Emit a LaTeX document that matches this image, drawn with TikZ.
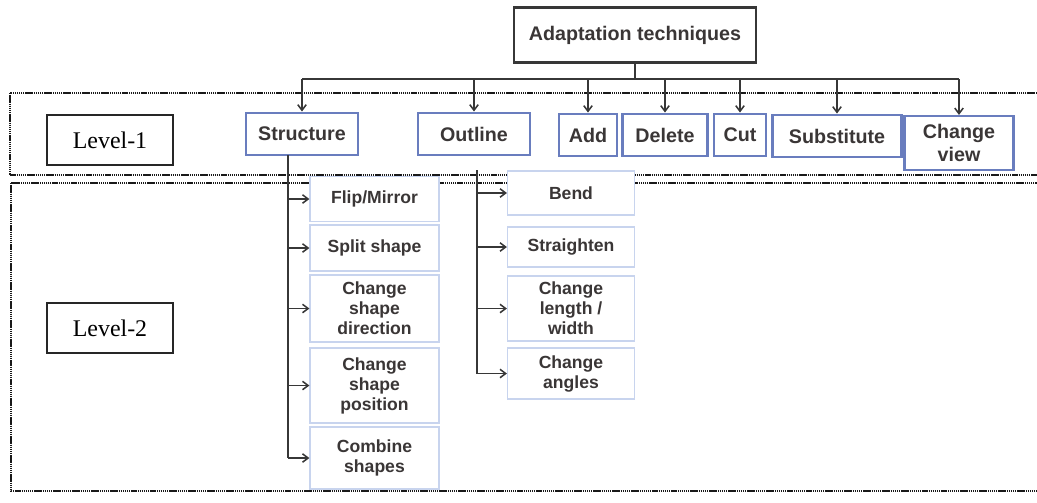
\documentclass[tikz,border=0pt]{standalone}
\usepackage{fontspec}
\setmainfont{Liberation Serif}
\setsansfont{Liberation Sans}
\usetikzlibrary{arrows.meta,positioning,calc}
\definecolor{boxblue}{RGB}{105,125,190}
\definecolor{paleblue}{RGB}{200,212,238}
\definecolor{inkgray}{RGB}{58,54,54}
\definecolor{linegray}{RGB}{55,55,55}

\begin{document}
\begin{tikzpicture}[x=0.025cm, y=-0.025cm,
    topbox/.style={rectangle, draw=linegray, line width=1.8pt, text=inkgray, inner sep=2pt, font=\sffamily\bfseries\fontsize{14}{16.5}\selectfont, minimum width=6.05cm, minimum height=1.375cm},
    levbox/.style={rectangle, draw=black!85, line width=1.2pt, inner sep=2pt, font=\fontsize{17}{19}\selectfont, minimum width=3.15cm, minimum height=1.24cm},
    techbox/.style={rectangle, draw=boxblue, line width=1.5pt, text=inkgray, inner sep=2pt, align=center, font=\sffamily\bfseries\fontsize{14}{16.5}\selectfont, minimum height=1.07cm},
    subbox/.style={rectangle, draw=paleblue, line width=0.8pt, fill=white, text=inkgray, inner sep=2pt, align=center, font=\sffamily\bfseries\fontsize{12.5}{14.2}\selectfont},
    conn/.style={draw=linegray, line width=1.1pt},
    arr/.style={conn, -{Straight Barb[length=4pt,width=6pt]}},
    zone/.style={draw=black!90, line width=1.5pt, dash pattern=on 1pt off 0.5pt},
]
\useasboundingbox (0,0) rectangle (1037,502);

\draw[zone] (10,93) rectangle (1050,175);
\draw[zone] (11,183) rectangle (1050,491);

\node[levbox] (lev1) at (110,140) {Level-1};
\node[levbox] (lev2) at (110,328) {Level-2};

\node[topbox] (adapt) at (635,35) {Adaptation techniques};

\node[techbox, minimum width=2.8cm] (struc) at (302,134) {Structure};
\node[techbox, minimum width=2.8cm] (outl) at (474,134) {Outline};
\node[techbox, minimum width=1.45cm] (add) at (588,135) {Add};
\node[techbox, minimum width=2.125cm] (del) at (665,135) {Delete};
\node[techbox, minimum width=1.3cm] (cut) at (740,135) {Cut};
\node[techbox, minimum width=3.225cm] (subst) at (837,136) {Substitute};
\node[techbox, minimum width=2.725cm, minimum height=1.35cm] (chview) at (959,143) {Change\\view};

\node[subbox, minimum width=3.225cm, minimum height=1.125cm] (flip) at (374.5,199) {Flip/Mirror};
\node[subbox, minimum width=3.225cm, minimum height=1.15cm] (split) at (374.5,248) {Split shape};
\node[subbox, minimum width=3.225cm, minimum height=1.675cm] (chdir) at (374.5,308.5) {Change\\shape\\direction};
\node[subbox, minimum width=3.225cm, minimum height=1.875cm] (chpos) at (374.5,385.5) {Change\\shape\\position};
\node[subbox, minimum width=3.225cm, minimum height=1.55cm] (comb) at (374.5,458) {Combine\\shapes};

\node[subbox, minimum width=3.175cm, minimum height=1.1cm] (bend) at (571,193) {Bend};
\node[subbox, minimum width=3.175cm, minimum height=1.0cm] (straight) at (571,247) {Straighten};
\node[subbox, minimum width=3.175cm, minimum height=1.625cm] (chlen) at (571,308.5) {Change\\length /\\width};
\node[subbox, minimum width=3.175cm, minimum height=1.275cm] (chang) at (571,373.5) {Change\\angles};

\coordinate (bus) at (635,79);
\coordinate (st) at (288,155);
\coordinate (ot) at (477,170);

\draw[conn] (adapt) -- (bus);
\draw[conn] (struc.north |- bus) -- (chview.north |- bus);
\foreach \n in {struc,outl,add,del,cut,subst,chview}
  \draw[arr] (\n.north |- bus) -- (\n.north);

\draw[conn] (st) -- (st |- comb.west);
\foreach \n in {flip,split,chdir,chpos,comb}
  \draw[arr] (st |- \n.west) -- (\n.west);

\draw[conn] (ot) -- (ot |- chang.west);
\foreach \n in {bend,straight,chlen,chang}
  \draw[arr] (ot |- \n.west) -- (\n.west);
\end{tikzpicture}
\end{document}
